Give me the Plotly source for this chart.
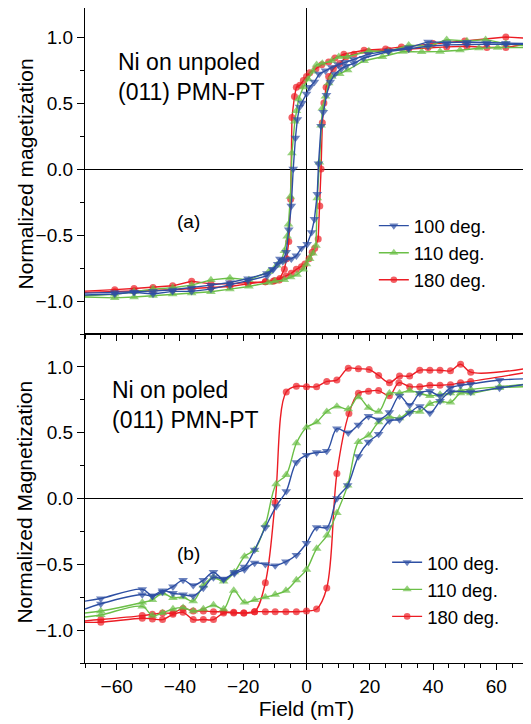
import plotly.graph_objects as go
from plotly.subplots import make_subplots

# ---------------- data: panel (a) Ni on unpoled (011) PMN-PT ----------------
A100_DOWN_X = [70, 63, 57, 50.7, 44.3, 38.4, 32.3, 25.9, 19.5, 15, 12.2, 10, 8, 6, 4, 2.5, 1, 0, -1.4, -2.2, -2.9, -3.5, -4.2, -4.8, -5.6, -6.4, -7.5, -9.1, -10.7, -12.5, -18.5, -24.2, -30.2, -36.3, -42.3, -48.5, -54.5, -60.6, -70]
A100_DOWN_Y = [0.95, 0.953, 0.955, 0.962, 0.958, 0.963, 0.92, 0.895, 0.87, 0.83, 0.81, 0.79, 0.77, 0.745, 0.72, 0.66, 0.62, 0.57, 0.50, 0.47, 0.375, 0.235, 0.0, -0.28, -0.46, -0.63, -0.70, -0.72, -0.76, -0.79, -0.83, -0.86, -0.88, -0.90, -0.915, -0.925, -0.93, -0.935, -0.94]
A100_UP_X = [-70, -60.6, -54.5, -48.5, -42.3, -36.3, -30.2, -24.2, -18.5, -12.5, -10.5, -8.4, -6.5, -4.8, -3.2, -1.6, 0.2, 1.6, 2.5, 3.4, 3.8, 4.6, 5.3, 6.3, 7.5, 9, 11, 12.5, 15, 18, 25.9, 32.3, 38.4, 44.3, 50.7, 57, 63, 70]
A100_UP_Y = [-0.955, -0.947, -0.934, -0.947, -0.927, -0.927, -0.91, -0.88, -0.846, -0.81, -0.76, -0.68, -0.685, -0.68, -0.657, -0.60, -0.57, -0.48, -0.38, -0.19, 0.04, 0.325, 0.43, 0.56, 0.66, 0.72, 0.76, 0.78, 0.80, 0.84, 0.89, 0.91, 0.93, 0.94, 0.945, 0.945, 0.945, 0.945]

A110_DOWN_X = [70, 63, 56.6, 50.7, 44.3, 38.4, 32.3, 25.9, 19.7, 13, 10.2, 8, 5, 3.2, 2, 0.5, -1, -2.5, -3.2, -3.7, -4.6, -5.1, -5.7, -6.1, -7, -8, -9.4, -12, -18.2, -24.2, -30.2, -36.3, -42.3, -48.5, -54.5, -60.6, -70]
A110_DOWN_Y = [0.93, 0.95, 0.98, 0.97, 0.98, 0.93, 0.938, 0.89, 0.894, 0.85, 0.85, 0.82, 0.80, 0.79, 0.74, 0.68, 0.62, 0.53, 0.44, 0.36, 0.12, -0.21, -0.42, -0.51, -0.62, -0.70, -0.73, -0.78, -0.84, -0.826, -0.84, -0.88, -0.90, -0.91, -0.93, -0.95, -0.96]
A110_UP_X = [-70, -60.6, -54.5, -48.5, -42.3, -36.3, -30.2, -24.2, -18.2, -12, -10, -7, -5, -3, -1, 0, 1, 2, 3, 3.4, 4.1, 4.6, 5, 6, 7, 8, 10.5, 13, 18.2, 24, 30.5, 36.4, 42.2, 48.5, 54.5, 60.4, 70]
A110_UP_Y = [-0.97, -0.976, -0.97, -0.96, -0.947, -0.94, -0.93, -0.91, -0.89, -0.86, -0.85, -0.84, -0.82, -0.80, -0.76, -0.72, -0.68, -0.64, -0.58, -0.22, 0.05, 0.33, 0.46, 0.55, 0.65, 0.70, 0.72, 0.75, 0.82, 0.85, 0.89, 0.887, 0.89, 0.90, 0.915, 0.92, 0.92]

A180_DOWN_X = [70, 63, 50, 40, 30, 25, 18.2, 11.8, 9, 7, 4.8, 3, 1, 0, -1, -2.1, -3.2, -3.8, -4.6, -5.0, -5.6, -6.3, -7, -8.6, -10.5, -13, -18.5, -24.2, -30.2, -36.3, -42.3, -48.5, -54.5, -60.6, -70]
A180_DOWN_Y = [0.99, 1.0, 0.97, 0.95, 0.925, 0.91, 0.90, 0.87, 0.84, 0.81, 0.79, 0.76, 0.73, 0.70, 0.67, 0.635, 0.62, 0.55, 0.39, -0.23, -0.55, -0.68, -0.76, -0.84, -0.85, -0.855, -0.86, -0.87, -0.87, -0.851, -0.885, -0.897, -0.905, -0.914, -0.925]
A180_UP_X = [-70, -60.6, -54.5, -48.5, -42.3, -36.3, -30.2, -24.2, -18.5, -13, -10, -8.4, -6.5, -4.8, -3.2, -1.6, -0.5, 0.8, 1.8, 2.6, 3.7, 4.2, 4.6, 5.0, 5.5, 6.2, 7, 8.5, 10.5, 12.5, 15, 19.5, 25.9, 32.3, 38.4, 44.3, 50.7, 57, 63, 70]
A180_UP_Y = [-0.935, -0.93, -0.925, -0.92, -0.915, -0.905, -0.90, -0.89, -0.87, -0.855, -0.845, -0.83, -0.81, -0.79, -0.76, -0.74, -0.72, -0.68, -0.63, -0.60, -0.53, -0.28, 0.0, 0.35, 0.50, 0.62, 0.70, 0.76, 0.80, 0.85, 0.87, 0.89, 0.90, 0.91, 0.92, 0.925, 0.93, 0.92, 0.92, 0.95]

# ---------------- data: panel (b) Ni on poled (011) PMN-PT ----------------
B100_DOWN_X = [70, 61, 51.9, 48.7, 45.5, 42.2, 39, 35.8, 32.6, 29.4, 26.2, 22.8, 19.6, 16.4, 13.2, 9.6, 6.4, 3.2, 0, -3.2, -6.4, -9.6, -13, -16.4, -19.6, -22.8, -26.2, -29.4, -32.6, -35.8, -39, -42.2, -45.5, -48.7, -51.9, -65, -70]
B100_DOWN_Y = [0.91, 0.90, 0.87, 0.86, 0.84, 0.78, 0.815, 0.80, 0.71, 0.78, 0.655, 0.60, 0.625, 0.56, 0.50, 0.53, 0.36, 0.35, 0.33, 0.275, 0.055, -0.06, -0.22, -0.39, -0.52, -0.56, -0.615, -0.56, -0.62, -0.66, -0.62, -0.67, -0.71, -0.74, -0.69, -0.76, -0.78]
B100_UP_X = [-70, -65, -51.9, -48.7, -45.5, -42.2, -39, -35.8, -32.6, -29.4, -26.2, -22.8, -19.6, -16.4, -13, -9.9, -6.5, -3.2, 0, 3.2, 6.5, 9.6, 13, 16.4, 19.6, 22.8, 26.2, 29.4, 32.6, 35.8, 39, 42.2, 45.5, 51.9, 61, 70]
B100_UP_Y = [-0.84, -0.80, -0.73, -0.74, -0.70, -0.72, -0.73, -0.74, -0.68, -0.60, -0.61, -0.57, -0.54, -0.49, -0.50, -0.51, -0.48, -0.43, -0.34, -0.22, -0.22, 0.0, 0.10, 0.32, 0.43, 0.49, 0.59, 0.60, 0.65, 0.70, 0.65, 0.74, 0.81, 0.81, 0.84, 0.87]

B110_DOWN_X = [70, 61, 51.9, 48.7, 45.5, 42.2, 39, 35.8, 32.6, 29.4, 26.2, 22.8, 19.6, 16.4, 13.2, 9.6, 6.4, 3.2, 0, -3.2, -6.4, -9.6, -13, -16.4, -19.6, -22.8, -26.2, -29.4, -32.6, -35.8, -39, -42.2, -45.5, -48.7, -51.9, -65, -70]
B110_DOWN_Y = [0.87, 0.85, 0.83, 0.82, 0.80, 0.79, 0.78, 0.80, 0.82, 0.80, 0.80, 0.66, 0.69, 0.77, 0.68, 0.70, 0.66, 0.58, 0.54, 0.42, 0.18, 0.11, -0.20, -0.39, -0.44, -0.56, -0.63, -0.60, -0.66, -0.78, -0.75, -0.755, -0.72, -0.77, -0.79, -0.855, -0.87]
B110_UP_X = [-70, -65, -51.9, -48.7, -45.5, -42.2, -39, -35.8, -32.6, -29.4, -26.2, -23, -19.6, -16.4, -13, -9.9, -6.5, -3.2, 0, 3.2, 6.5, 9.6, 13, 16.4, 19.6, 22.8, 26.2, 29.4, 32.6, 35.8, 39, 42.2, 45.5, 48.7, 51.9, 61, 70]
B110_UP_Y = [-0.90, -0.885, -0.82, -0.89, -0.87, -0.84, -0.83, -0.855, -0.84, -0.81, -0.84, -0.70, -0.79, -0.77, -0.75, -0.73, -0.70, -0.62, -0.54, -0.38, -0.28, -0.11, 0.10, 0.43, 0.48, 0.58, 0.62, 0.61, 0.66, 0.66, 0.72, 0.74, 0.73, 0.80, 0.80, 0.84, 0.85]

B180_DOWN_X = [70, 51.9, 48.7, 45.5, 42.2, 39, 35.8, 32.6, 29.4, 26.2, 22.8, 19.8, 16.4, 13.2, 9.6, 6.4, 3.2, 0, -3.2, -6.4, -9.9, -13, -16.4, -19.8, -23, -26.2, -29.4, -32.6, -35.8, -39, -42.2, -45.5, -48.7, -51.9, -65, -70]
B180_DOWN_Y = [0.99, 0.96, 1.02, 0.97, 0.975, 0.975, 0.975, 0.93, 0.93, 0.88, 0.935, 0.98, 0.985, 0.99, 0.90, 0.89, 0.85, 0.85, 0.853, 0.81, -0.03, -0.64, -0.86, -0.87, -0.865, -0.86, -0.86, -0.855, -0.855, -0.835, -0.87, -0.87, -0.88, -0.89, -0.92, -0.93]
B180_UP_X = [-70, -65, -51.9, -48.7, -45.5, -42.2, -39, -35.8, -32.6, -29.4, -26.2, -23, -19.8, -16.4, -13, -9.9, -6.5, -3.2, 0, 3.2, 6.4, 9.6, 13.4, 16.4, 19.6, 22.8, 26.2, 29.2, 32.6, 35.8, 39, 42.2, 45.5, 48.7, 51.9, 70]
B180_UP_Y = [-0.94, -0.94, -0.91, -0.915, -0.92, -0.88, -0.865, -0.92, -0.92, -0.92, -0.87, -0.87, -0.87, -0.86, -0.86, -0.86, -0.86, -0.86, -0.855, -0.84, -0.68, 0.19, 0.645, 0.80, 0.815, 0.82, 0.78, 0.88, 0.85, 0.85, 0.86, 0.86, 0.865, 0.88, 0.89, 0.96]

SERIES_NAMES = ["100 deg.", "110 deg.", "180 deg."]
X_TICKS = [-60, -40, -20, 0, 20, 40, 60]
Y_TICKS = [-1.0, -0.5, 0.0, 0.5, 1.0]

# ---------------- styles ----------------
COLORS = {"100 deg.": "#2D4FA3", "110 deg.": "#6BBF47", "180 deg.": "#EC1C24"}
SYMBOLS = {"100 deg.": "triangle-down", "110 deg.": "triangle-up", "180 deg.": "circle"}
MSIZE = {"100 deg.": 8.5, "110 deg.": 8.5, "180 deg.": 7}
RANK = {"100 deg.": 1, "110 deg.": 2, "180 deg.": 3}
FONT = "Liberation Sans, Arial, Helvetica, sans-serif"

panel_a = {
    "100 deg.": [(A100_DOWN_X, A100_DOWN_Y), (A100_UP_X, A100_UP_Y)],
    "110 deg.": [(A110_DOWN_X, A110_DOWN_Y), (A110_UP_X, A110_UP_Y)],
    "180 deg.": [(A180_DOWN_X, A180_DOWN_Y), (A180_UP_X, A180_UP_Y)],
}
panel_b = {
    "100 deg.": [(B100_DOWN_X, B100_DOWN_Y), (B100_UP_X, B100_UP_Y)],
    "110 deg.": [(B110_DOWN_X, B110_DOWN_Y), (B110_UP_X, B110_UP_Y)],
    "180 deg.": [(B180_DOWN_X, B180_DOWN_Y), (B180_UP_X, B180_UP_Y)],
}

# the page body has an 8px default margin; figure is sized to fill the rest of the window
fig = make_subplots(rows=2, cols=1, shared_xaxes=True, vertical_spacing=0,
                    row_heights=[326, 329])

draw_order = ["180 deg.", "110 deg.", "100 deg."]
for row, panel, legname, shape in [(1, panel_a, "legend", "linear"), (2, panel_b, "legend2", "spline")]:
    for name in draw_order:
        for k, (xs, ys) in enumerate(panel[name]):
            sizes = [0 if abs(v) >= 70 else MSIZE[name] for v in xs]
            fig.add_trace(go.Scatter(
                x=xs, y=ys, mode="lines+markers", name=name,
                line=dict(color=COLORS[name], width=1.4, shape=shape, smoothing=1.0),
                marker=dict(symbol=SYMBOLS[name], size=sizes, color=COLORS[name], line=dict(width=0)),
                legend=legname, legendgroup=f"{legname}-{name}", legendrank=RANK[name],
                showlegend=(k == 0),
            ), row=row, col=1)

axis_common = dict(showline=True, linecolor="black", linewidth=1.3, mirror=True,
                   showgrid=False, zeroline=True, zerolinecolor="black", zerolinewidth=1,
                   ticks="outside", tickcolor="black", tickwidth=1.2, automargin=False,
                   tickfont=dict(family=FONT, size=19, color="black"))

fig.update_xaxes(range=[-70, 70], tickvals=X_TICKS, ticklen=6,
                 minor=dict(dtick=5, tick0=0, ticklen=3.5, ticks="outside", tickcolor="black", tickwidth=1.1),
                 **axis_common)
fig.update_xaxes(showticklabels=False, row=1, col=1)
fig.update_xaxes(showticklabels=True, row=2, col=1,
                 title=dict(text="Field (mT)", font=dict(family=FONT, size=21, color="black"), standoff=2))

fig.update_yaxes(tickvals=Y_TICKS, tickformat=".1f", ticklen=7,
                 minor=dict(dtick=0.25, tick0=0, ticklen=4, ticks="outside", tickcolor="black", tickwidth=1.1),
                 **axis_common)
fig.update_yaxes(range=[-1.25, 1.2197], row=1, col=1)
fig.update_yaxes(range=[-1.25, 1.25], row=2, col=1)

# y-axis titles
fig.add_annotation(x=-0.1354, y=0.7458, xref="paper", yref="paper", text="Normalized magetization",
                   textangle=-90, showarrow=False, xanchor="center", yanchor="middle",
                   font=dict(family=FONT, size=21, color="black"))
fig.add_annotation(x=-0.1354, y=0.245, xref="paper", yref="paper", text="Normalized Magnetization",
                   textangle=-90, showarrow=False, xanchor="center", yanchor="middle",
                   font=dict(family=FONT, size=21, color="black"))

fig.add_annotation(x=-60.3, y=0.695, xref="x", yref="y", xanchor="left", yanchor="middle",
                   text="Ni on unpoled<br>(011) PMN-PT", showarrow=False, align="left",
                   font=dict(family=FONT, size=23, color="black"))
fig.add_annotation(x=-37.3, y=-0.40, xref="x", yref="y", text="(a)", showarrow=False,
                   font=dict(family=FONT, size=19, color="black"))
fig.add_annotation(x=-62, y=0.714, xref="x2", yref="y2", xanchor="left", yanchor="middle",
                   text="Ni on poled<br>(011) PMN-PT", showarrow=False, align="left",
                   font=dict(family=FONT, size=23, color="black"))
fig.add_annotation(x=-37.3, y=-0.42, xref="x2", yref="y2", text="(b)", showarrow=False,
                   font=dict(family=FONT, size=19, color="black"))

leg_common = dict(xanchor="left", yanchor="top", bgcolor="rgba(0,0,0,0)", borderwidth=0,
                  font=dict(family=FONT, size=18.5, color="black"), traceorder="normal",
                  tracegroupgap=0)
fig.update_layout(
    template="none",
    width=523, height=716,
    margin=dict(l=77, r=3, t=0, b=61),
    paper_bgcolor="white", plot_bgcolor="white",
    font=dict(family=FONT, color="black"),
    legend=dict(x=0.652, y=0.696, **leg_common),
    legend2=dict(x=0.682, y=0.182, **leg_common),
)

fig.write_html("out.html")
